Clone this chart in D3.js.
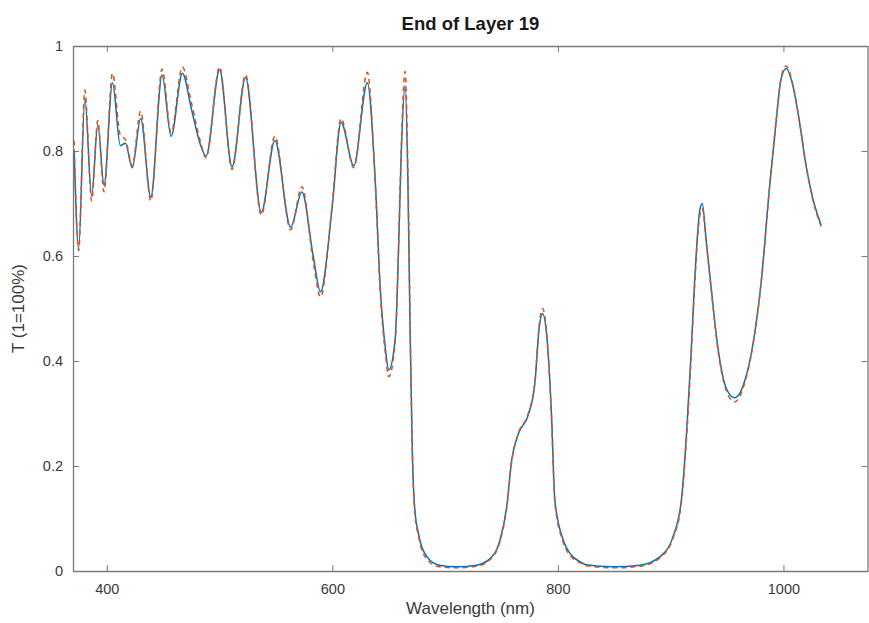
<!DOCTYPE html>
<html>
<head>
<meta charset="utf-8">
<script src="https://cdn.jsdelivr.net/npm/d3@7"></script>
<style>
  body { margin: 0; background: #fff; }
  svg { display: block; font-family: "Liberation Sans", Arial, sans-serif; }
</style>
</head>
<body>
<div id="chart"></div>
<script>
// wavelength samples (nm)
const wavelength = [371, 375, 380.5, 386.5, 392, 397.5, 405, 412, 416.5, 422.5, 430, 439, 449, 457, 467, 475, 483, 488,
  500, 511, 523, 537, 549, 563, 573, 583, 589.5, 599.7, 607.7, 619, 631, 638, 642.5, 647, 650, 655.8, 658.7, 661,
  664.5, 667, 669, 671, 673, 676.5, 684, 695, 710, 728, 740, 748.7, 754.6, 759, 765, 773.7, 779.6, 783.5, 786.4,
  790, 794.4, 797.3, 804.7, 812, 819.5, 825, 849, 872.6, 890.3, 902, 909.5, 914, 918, 921.2, 925.7, 928, 931.6,
  936, 942, 949.3, 956.6, 965.5, 972.8, 980.3, 987.6, 993.5, 998, 1002.4, 1008.2, 1014.2, 1020, 1026, 1033.4];

const seriesBlue = [0.80, 0.615, 0.90, 0.715, 0.85, 0.735, 0.93, 0.81, 0.815, 0.768, 0.862, 0.712, 0.945, 0.828, 0.948, 0.88, 0.812, 0.79,
  0.955, 0.77, 0.94, 0.683, 0.82, 0.655, 0.722, 0.60, 0.532, 0.69, 0.855, 0.772, 0.93, 0.745, 0.538, 0.424, 0.383, 0.444, 0.615, 0.79,
  0.925, 0.74, 0.45, 0.22, 0.12, 0.07, 0.027, 0.011, 0.008, 0.011, 0.024, 0.059, 0.122, 0.211, 0.262, 0.297, 0.358, 0.465, 0.49,
  0.45, 0.294, 0.135, 0.059, 0.03, 0.018, 0.012, 0.008, 0.011, 0.027, 0.065, 0.135, 0.26, 0.41, 0.55, 0.685, 0.70, 0.627,
  0.538, 0.424, 0.348, 0.33, 0.361, 0.43, 0.551, 0.729, 0.856, 0.938, 0.957, 0.926, 0.856, 0.773, 0.71, 0.659];

const seriesOrange = [0.82, 0.61, 0.916, 0.705, 0.858, 0.722, 0.948, 0.83, 0.822, 0.772, 0.876, 0.705, 0.956, 0.835, 0.96, 0.892, 0.818, 0.787,
  0.96, 0.765, 0.945, 0.678, 0.828, 0.65, 0.732, 0.59, 0.522, 0.695, 0.862, 0.768, 0.95, 0.74, 0.53, 0.415, 0.37, 0.44, 0.615, 0.80,
  0.952, 0.76, 0.46, 0.22, 0.115, 0.065, 0.022, 0.008, 0.006, 0.009, 0.022, 0.057, 0.12, 0.208, 0.262, 0.3, 0.36, 0.47, 0.50,
  0.455, 0.29, 0.13, 0.055, 0.027, 0.016, 0.01, 0.006, 0.009, 0.025, 0.062, 0.13, 0.25, 0.4, 0.54, 0.675, 0.69, 0.625,
  0.535, 0.42, 0.344, 0.322, 0.357, 0.428, 0.55, 0.728, 0.857, 0.94, 0.962, 0.928, 0.857, 0.773, 0.708, 0.656];

const xTicks = [400, 600, 800, 1000];
const yTicks = [0, 0.2, 0.4, 0.6, 0.8, 1];

const width = 869, height = 623;
const margin = {top: 46, right: 1, bottom: 52, left: 73};

const svg = d3.select("#chart").append("svg")
  .attr("width", width)
  .attr("height", height);

const x = d3.scaleLinear().domain([370, 1075]).range([margin.left, width - margin.right]);
const y = d3.scaleLinear().domain([0, 1]).range([height - margin.bottom, margin.top]);

const axisColor = "#7a7a7a";
const labelColor = "#3a3a3a";

// box with inward ticks on all four sides
svg.append("g")
  .attr("transform", `translate(0,${y(0)})`)
  .call(d3.axisBottom(x).tickValues(xTicks).tickSize(-6).tickSizeOuter(0).tickPadding(13)
    .tickFormat(d3.format("d")));
svg.append("g")
  .attr("transform", `translate(${x.range()[0]},0)`)
  .call(d3.axisLeft(y).tickValues(yTicks).tickSize(-6).tickSizeOuter(0).tickPadding(10)
    .tickFormat(d => d3.format("~g")(d)));
svg.append("g")
  .attr("transform", `translate(0,${y(1)})`)
  .call(d3.axisTop(x).tickValues(xTicks).tickSize(-6).tickSizeOuter(0).tickFormat(""));
svg.append("g")
  .attr("transform", `translate(${x.range()[1] - 0.5},0)`)
  .call(d3.axisRight(y).tickValues(yTicks).tickSize(-6).tickSizeOuter(0).tickFormat(""));

svg.selectAll(".domain").attr("stroke", axisColor).attr("stroke-width", 1.3);
svg.selectAll(".tick line").attr("stroke", axisColor).attr("stroke-width", 1);
svg.selectAll(".tick text")
  .attr("fill", labelColor)
  .style("font-size", "14.5px");

// lines
const line = (vals) => d3.line()
  .x((d, i) => x(wavelength[i]))
  .y(d => y(d))
  .curve(d3.curveMonotoneX)(vals);

svg.append("path")
  .attr("d", line(seriesBlue))
  .attr("fill", "none")
  .attr("stroke", "#0072BD")
  .attr("stroke-width", 1.5)
  .attr("stroke-linejoin", "round");

svg.append("path")
  .attr("d", line(seriesOrange))
  .attr("fill", "none")
  .attr("stroke", "#D95319")
  .attr("stroke-width", 1.5)
  .attr("stroke-dasharray", "5,4")
  .attr("stroke-linejoin", "round");

// title and axis labels
svg.append("text")
  .text("End of Layer 19")
  .attr("x", (x.range()[0] + x.range()[1]) / 2)
  .attr("y", 30)
  .attr("fill", "#1a1a1a")
  .style("font-weight", "bold")
  .style("font-size", "18.5px")
  .style("text-anchor", "middle");

svg.append("text")
  .text("Wavelength (nm)")
  .attr("x", (x.range()[0] + x.range()[1]) / 2)
  .attr("y", 614)
  .attr("fill", labelColor)
  .style("font-size", "17px")
  .style("text-anchor", "middle");

svg.append("text")
  .text("T (1=100%)")
  .attr("transform", `translate(24,${(y(0) + y(1)) / 2}) rotate(-90)`)
  .attr("fill", labelColor)
  .style("font-size", "17px")
  .style("text-anchor", "middle");
</script>
</body>
</html>
